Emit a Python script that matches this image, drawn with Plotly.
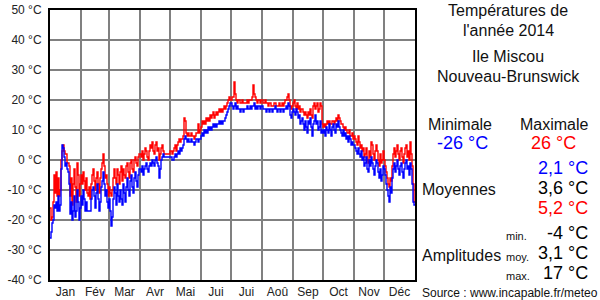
import plotly.graph_objects as go

# ---------------- data (daily min / max, °C) ----------------
tmin_jan = [-26,-24,-21,-20,-15,-16,-14,-17,-12,-17,-15,-3,5,4,1,-2,-1,-3,-4,-8,-18,-14,-20,-17,-12,-19,-17,-10,-14,-20,-16]
tmax_jan = [-16,-20,-19,-14,-5,-11,-4,-12,-6,-12,-10,0,3,5,3,2,2,-1,-1,-2,-12,-6,-15,-8,-3,-9,-14,-1,-5,-12,-8]
tmin_feb = [-12,-15,-10,-13,-17,-14,-17,-17,-17,-17,-13,-10,-9,-12,-16,-11,-8,-13,-17,-14,-9,-7,-4,-8,-12,-10,-14,-16]
tmax_feb = [-5,-8,-4,-7,-10,-6,-11,-12,-9,-13,-8,-5,-3,-7,-10,-6,-4,-8,-11,-6,-3,-1,2,-2,-6,-5,-8,-12]
tmin_mar = [-13,-17,-22,-19,-13,-9,-11,-15,-8,-12,-14,-10,-13,-15,-8,-11,-14,-9,-6,-10,-12,-7,-5,-9,-11,-6,-4,-7,-9,-5,-3]
tmax_mar = [-9,-11,-12,-10,-6,-3,-6,-8,-3,-5,-8,-4,-2,-7,-3,-5,-6,-2,-1,-4,-6,-1,0,-3,-4,0,1,-1,-2,1,2]
tmin_apr = [-3,-4,-2,-5,-3,-2,-1,-3,-4,-2,-1,-2,0,-1,-2,0,1,-1,-2,-6,-3,0,1,2,1,1,1,1,1,1]
tmax_apr = [2,1,3,0,2,4,3,1,0,3,5,4,6,3,2,5,6,3,4,0,2,4,5,3,2,2,2,2,2,2]
tmin_may = [1,1,0,0,1,2,1,2,3,2,4,3,4,5,7,8,7,6,7,6,6,7,6,6,5,6,7,7,6,7,7]
tmax_may = [3,3,2,3,4,5,3,5,6,7,6,7,7,8,14,13,9,8,9,8,8,9,8,8,7,8,9,9,12,9,10]
tmin_jun = [8,9,8,10,9,10,9,11,10,11,10,11,12,11,12,11,12,12,13,12,13,12,13,13,14,15,16,17,18,19]
tmax_jun = [11,13,12,13,12,14,13,14,13,15,14,15,16,14,15,16,15,16,17,16,17,16,17,18,17,18,19,20,21,20]
tmin_jul = [19,18,17,18,19,17,18,17,17,16,17,17,16,17,17,17,18,17,17,18,17,18,18,19,17,18,17,18,18,17,18]
tmax_jul = [20,21,21,26,22,20,19,20,20,19,19,20,19,19,19,19,20,19,20,20,20,21,25,22,21,20,19,20,20,19,20]
tmin_aug = [18,17,17,17,16,17,17,16,17,17,16,17,17,18,17,16,17,17,16,17,17,16,17,17,18,17,19,18,15,14,16]
tmax_aug = [20,19,19,20,19,19,18,19,19,18,18,18,19,19,18,18,18,19,18,18,19,18,19,20,20,21,22,20,18,17,18]
tmin_sep = [17,16,15,17,16,14,15,12,13,14,12,10,13,11,9,13,12,14,11,8,12,13,15,12,13,10,11,13,9,10]
tmax_sep = [19,20,18,17,19,17,18,16,17,17,16,15,16,15,14,16,15,17,15,14,18,19,17,18,19,16,17,19,18,12]
tmin_oct = [9,10,8,11,10,9,12,10,8,11,12,10,9,12,11,13,11,10,9,8,10,8,9,7,8,6,8,7,5,6,5]
tmax_oct = [11,12,11,12,13,12,13,12,12,13,13,12,13,14,13,15,14,13,12,12,11,10,11,10,9,9,10,8,8,9,7]
tmin_nov = [5,4,3,2,4,2,1,3,0,1,-2,-1,1,-3,-4,0,-2,1,-1,-3,-5,-2,0,-1,-4,-6,-3,-7,-5,-2]
tmax_nov = [8,7,6,5,8,6,4,5,3,4,1,2,4,0,-1,3,1,6,5,2,0,3,5,3,0,-2,2,-1,0,3]
tmin_dec = [-3,-5,-8,-10,-12,-14,-9,-11,-6,-3,-1,-4,-2,0,-3,-5,-2,-1,-4,-6,-3,-1,0,-3,-2,-5,-1,-3,-8,-14,-15]
tmax_dec = [0,-2,-4,-6,-8,-9,-6,-7,-2,2,4,1,3,5,2,0,3,4,1,-1,2,4,5,1,3,0,6,2,-2,-8,-14]

month_labels = ["Jan", "Fév", "Mar", "Avr", "Mai", "Jui", "Jui", "Aoû", "Sep", "Oct", "Nov", "Déc"]
month_days = [31, 28, 31, 30, 31, 30, 31, 31, 30, 31, 30, 31]
y_ticks = [-40, -30, -20, -10, 0, 10, 20, 30, 40, 50]

title_lines = ["Températures de", "l'année 2014", "Ile Miscou", "Nouveau-Brunswick"]
stat_min, stat_max = "-26 °C", "26 °C"
moy_min, moy_moy, moy_max = "2,1 °C", "3,6 °C", "5,2 °C"
amp_min, amp_moy, amp_max = "-4 °C", "3,1 °C", "17 °C"
source_text = "Source : www.incapable.fr/meteo"

tmin = (tmin_jan + tmin_feb + tmin_mar + tmin_apr + tmin_may + tmin_jun +
        tmin_jul + tmin_aug + tmin_sep + tmin_oct + tmin_nov + tmin_dec)
tmax = (tmax_jan + tmax_feb + tmax_mar + tmax_apr + tmax_may + tmax_jun +
        tmax_jul + tmax_aug + tmax_sep + tmax_oct + tmax_nov + tmax_dec)

n = len(tmin)
days = list(range(n + 1))
bounds = [0]
for d in month_days:
    bounds.append(bounds[-1] + d)
mids = [(bounds[i] + bounds[i + 1]) / 2 for i in range(12)]

FONT = "Liberation Sans, Arial, sans-serif"

fig = go.Figure()
fig.add_trace(go.Scatter(x=days, y=tmax + [tmax[-1]], mode="lines", line=dict(color="#ff0000", width=1.4, shape="hv"),
                         hoverinfo="skip", showlegend=False))
fig.add_trace(go.Scatter(x=days, y=tmin + [tmin[-1]], mode="lines", line=dict(color="#0000ff", width=1.4, shape="hv"),
                         hoverinfo="skip", showlegend=False))

W, H = 600, 300
L, R, T, B = 50, 185, 10, 20
pw, ph = W - L - R, H - T - B

def px(x):
    return (x - L) / pw

def py(y):
    return (H - B - y) / ph

fig.update_layout(
    width=W, height=H, margin=dict(l=L, r=R, t=T, b=B, autoexpand=False),
    paper_bgcolor="white", plot_bgcolor="white",
    font=dict(family=FONT, color="#000000", size=12),
    xaxis=dict(range=[0, n], tickvals=mids, ticktext=month_labels, showgrid=False,
               showline=True, linecolor="#000000", linewidth=2, mirror=True, automargin=False,
               ticks="", zeroline=False, tickfont=dict(size=12, color="#222")),
    xaxis2=dict(range=[0, n], overlaying="x", side="bottom", tickvals=bounds, showticklabels=False,
                showgrid=True, gridcolor="#808080", gridwidth=1.5, ticks="", zeroline=False, showline=False,
                automargin=False),
    yaxis=dict(range=[-40, 50], tickvals=y_ticks, ticktext=[f"{v} °C" for v in y_ticks],
               showgrid=True, gridcolor="#808080", gridwidth=1.5, zeroline=False, automargin=False,
               showline=True, linecolor="#000000", linewidth=2, mirror=True,
               ticks="", ticklabelstandoff=4, tickfont=dict(size=12, color="#222")),
)
# invisible trace so that xaxis2 (month boundary grid) is created
fig.add_trace(go.Scatter(x=[0], y=[0], xaxis="x2", mode="markers", marker=dict(opacity=0),
                         hoverinfo="skip", showlegend=False))

def ann(text, x, y, size=16, color="#111", xanchor="center"):
    fig.add_annotation(text=text, x=px(x), y=py(y), xref="paper", yref="paper",
                       xanchor=xanchor, yanchor="middle", showarrow=False,
                       font=dict(family=FONT, size=size, color=color))

ann(title_lines[0], 508, 10)
ann(title_lines[1], 508, 30)
ann(title_lines[2], 508, 57)
ann(title_lines[3], 508, 77)
ann("Minimale", 460, 124)
ann("Maximale", 554, 124)
ann(stat_min, 462, 143, size=18, color="#0000ff")
ann(stat_max, 553, 143, size=18, color="#ff0000")
ann(moy_min, 590, 168, size=18, color="#0000ff", xanchor="right")
ann("Moyennes", 420, 189, xanchor="left")
ann(moy_moy, 590, 188, size=18, color="#000000", xanchor="right")
ann(moy_max, 590, 208, size=18, color="#ff0000", xanchor="right")
ann("min.", 504, 236, size=11, xanchor="left")
ann(amp_min, 590, 233, size=18, color="#000000", xanchor="right")
ann("Amplitudes", 420, 255, xanchor="left")
ann("moy.", 504, 257, size=11, xanchor="left")
ann(amp_moy, 590, 253, size=18, color="#000000", xanchor="right")
ann("max.", 504, 276, size=11, xanchor="left")
ann(amp_max, 590, 273, size=18, color="#000000", xanchor="right")
ann(source_text, 420, 293, size=12, xanchor="left")

fig.write_html("out.html")
